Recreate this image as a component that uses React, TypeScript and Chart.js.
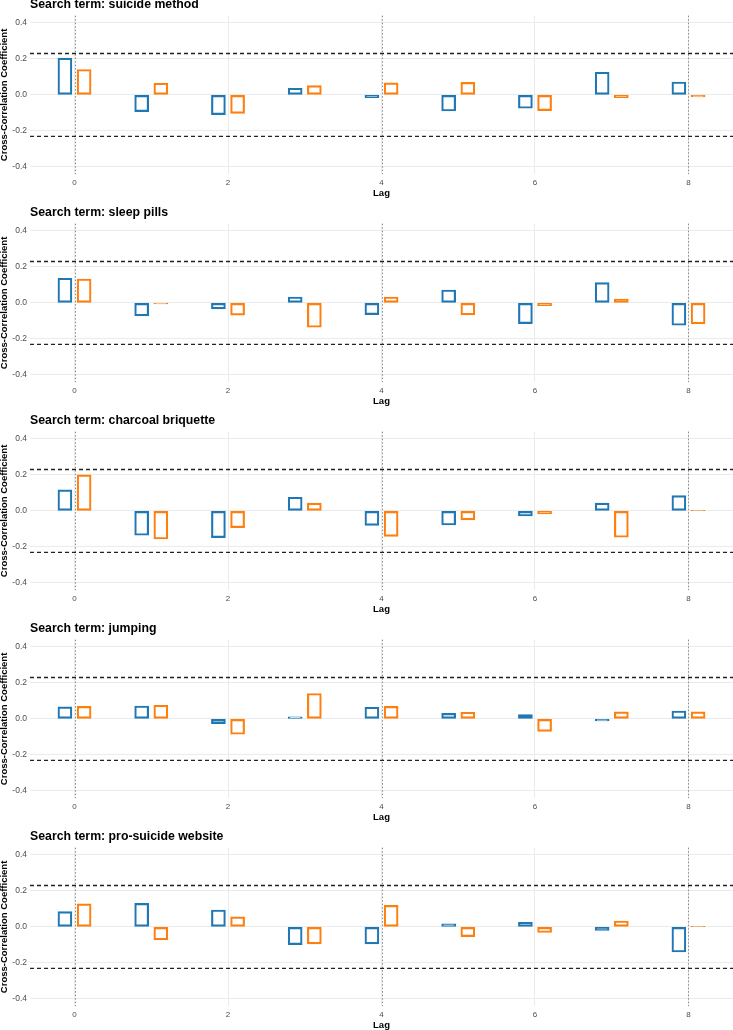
import React, { useEffect, useRef } from "react";
import { Chart, registerables } from "chart.js";

Chart.register(...registerables);

// ---- data ----
const LAGS = [0, 1, 2, 3, 4, 5, 6, 7, 8];
const REF_LAGS = [0, 4, 8];
const CI_BOUND = 0.23;
const Y_MIN = -0.44;
const Y_MAX = 0.44;
const X_MIN = -0.58;
const X_MAX = 8.58;
const DODGE = 0.125;

const TERMS = [
  "suicide method",
  "sleep pills",
  "charcoal briquette",
  "jumping",
  "pro-suicide website",
];

const suicideMethodBlue = [0.204, -0.093, -0.109, 0.037, -0.015, -0.089, -0.074, 0.126, 0.072];
const suicideMethodOrange = [0.141, 0.065, -0.102, 0.052, 0.067, 0.07, -0.087, -0.015, -0.011];

const sleepPillsBlue = [0.137, -0.072, -0.033, 0.033, -0.065, 0.072, -0.115, 0.113, -0.124];
const sleepPillsOrange = [0.133, -0.006, -0.068, -0.135, 0.033, -0.066, -0.015, 0.022, -0.116];

const charcoalBlue = [0.117, -0.135, -0.148, 0.076, -0.08, -0.078, -0.028, 0.043, 0.085];
const charcoalOrange = [0.2, -0.156, -0.093, 0.043, -0.141, -0.05, -0.017, -0.146, 0.002];

const jumpingBlue = [0.067, 0.072, -0.026, 0.011, 0.065, 0.031, 0.024, -0.011, 0.044];
const jumpingOrange = [0.07, 0.076, -0.085, 0.141, 0.07, 0.037, -0.069, 0.039, 0.039];

const proSuicideBlue = [0.085, 0.131, 0.094, -0.098, -0.094, 0.017, 0.026, -0.02, -0.139];
const proSuicideOrange = [0.128, -0.072, 0.056, -0.094, 0.12, -0.054, -0.031, 0.033, 0.002];

const BLUE_SERIES = [suicideMethodBlue, sleepPillsBlue, charcoalBlue, jumpingBlue, proSuicideBlue];
const ORANGE_SERIES = [suicideMethodOrange, sleepPillsOrange, charcoalOrange, jumpingOrange, proSuicideOrange];

// ---- style ----
const FONT = "'Liberation Sans', Arial, Helvetica, sans-serif";
const BLUE = "#1f77b4";
const ORANGE = "#ff7f0e";
const GRID = "#ebebeb";
const PANEL_W = 733;
const PANEL_H = 208;
const PANEL_OFFSET = -3;

Chart.defaults.font.family = FONT;

const refLinesPlugin = {
  id: "refLines",
  beforeDatasetsDraw(chart: any) {
    const { ctx, chartArea, scales } = chart;
    const x = scales.x;
    const y = scales.y;
    ctx.save();
    ctx.strokeStyle = "#8a8a8a";
    ctx.lineWidth = 1;
    ctx.setLineDash([1.5, 2]);
    for (const l of REF_LAGS) {
      const px = Math.round(x.getPixelForValue(l)) + 0.5;
      ctx.beginPath();
      ctx.moveTo(px, chartArea.top);
      ctx.lineTo(px, chartArea.bottom);
      ctx.stroke();
    }
    ctx.strokeStyle = "#222222";
    ctx.lineWidth = 1.3;
    ctx.setLineDash([4, 3]);
    for (const v of [CI_BOUND, -CI_BOUND]) {
      const py = y.getPixelForValue(v);
      ctx.beginPath();
      ctx.moveTo(chartArea.left, py);
      ctx.lineTo(chartArea.right, py);
      ctx.stroke();
    }
    ctx.restore();
  },
};

function Panel({ term, blue, orange, top }: { term: string; blue: number[]; orange: number[]; top: number }) {
  const ref = useRef<HTMLCanvasElement | null>(null);
  useEffect(() => {
    if (!ref.current) return;
    const barCommon = {
      type: "bar" as const,
      backgroundColor: "rgba(255,255,255,0)",
      borderWidth: 1.5,
      borderSkipped: false as const,
      barThickness: 14,
      grouped: false,
    };
    const chart = new Chart(ref.current, {
      type: "bar",
      data: {
        datasets: [
          {
            ...barCommon,
            label: "Series A",
            borderColor: BLUE,
            data: LAGS.map((l, i) => ({ x: l - DODGE, y: blue[i] })),
          },
          {
            ...barCommon,
            label: "Series B",
            borderColor: ORANGE,
            data: LAGS.map((l, i) => ({ x: l + DODGE, y: orange[i] })),
          },
        ],
      } as any,
      options: {
        animation: false,
        responsive: false,
        layout: { padding: 0 },
        plugins: {
          legend: { display: false },
          tooltip: { enabled: false },
          title: {
            display: true,
            text: "Search term: " + term,
            align: "start",
            fullSize: false,
            color: "#000000",
            font: { size: 12.3, weight: "bold", family: FONT },
            padding: { top: 0, bottom: 3.9 },
          },
        },
        scales: {
          x: {
            type: "linear",
            min: X_MIN,
            max: X_MAX,
            offset: false,
            afterFit: (s: any) => {
              s.height = 30.8;
            },
            grid: { color: GRID, lineWidth: 1, drawTicks: false, offset: false },
            border: { display: false },
            ticks: {
              stepSize: 2,
              includeBounds: false,
              autoSkip: false,
              maxRotation: 0,
              padding: 4,
              color: "#4d4d4d",
              font: { size: 8 },
              callback: (v: any) => String(Math.round(Number(v))),
            },
            title: {
              display: true,
              text: "Lag",
              color: "#000000",
              font: { size: 9.5, weight: "bold", lineHeight: 1 },
              padding: { top: 0, bottom: 7.25 },
            },
          },
          y: {
            type: "linear",
            min: Y_MIN,
            max: Y_MAX,
            afterFit: (s: any) => {
              s.width = 30;
            },
            grid: { color: GRID, lineWidth: 1, drawTicks: false },
            border: { display: false },
            ticks: {
              stepSize: 0.2,
              includeBounds: false,
              padding: 3,
              color: "#4d4d4d",
              font: { size: 8.5 },
              callback: (v: any) => {
                const n = Number(v);
                return Math.abs(n) < 1e-9 ? "0.0" : n.toFixed(1);
              },
            },
            title: {
              display: true,
              text: "Cross-Correlation Coefficient",
              color: "#000000",
              font: { size: 9.5, weight: "bold", lineHeight: 1 },
              padding: { top: 0, bottom: 0 },
            },
          },
        },
      } as any,
      plugins: [refLinesPlugin],
    });
    return () => chart.destroy();
  }, [term, blue, orange]);

  return (
    <div style={{ position: "absolute", left: 0, top, width: PANEL_W, height: PANEL_H }}>
      <canvas ref={ref} width={PANEL_W} height={PANEL_H} style={{ display: "block" }} />
    </div>
  );
}

export default function App() {
  return (
    <div
      style={{
        position: "fixed",
        left: 0,
        top: 0,
        width: 733,
        height: 1030,
        overflow: "hidden",
        background: "#ffffff",
      }}
    >
      {TERMS.map((t, i) => (
        <Panel
          key={t}
          term={t}
          blue={BLUE_SERIES[i]}
          orange={ORANGE_SERIES[i]}
          top={PANEL_OFFSET + PANEL_H * i}
        />
      ))}
    </div>
  );
}
